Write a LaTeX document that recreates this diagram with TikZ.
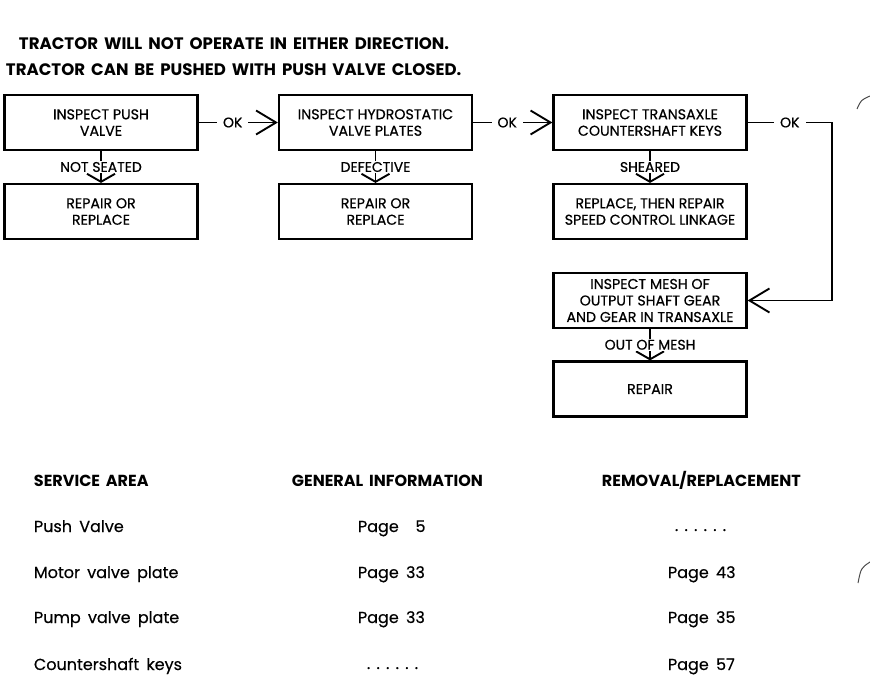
\documentclass[tikz,border=0pt]{standalone}
\usepackage{fontspec}
\setmainfont{Poppins}
\newfontfamily\boxfont[FakeBold=0.6]{Poppins}
\newfontfamily\widefont[WordSpace=2.2]{Poppins}
\newfontfamily\tabfont[WordSpace=1.7,FakeBold=0.4]{Poppins}
\newfontfamily\tabheadfont[WordSpace=1.7]{Poppins}
\usetikzlibrary{arrows.meta,positioning}

\begin{document}
\begin{tikzpicture}[x=1pt, y=-1pt, line width=1.9pt,
	box/.style={draw, line width=2.2pt, minimum width=193pt, minimum height=55pt, align=center, inner sep=0pt, font=\boxfont\fontsize{14.2}{16.5}\selectfont},
	lab/.style={fill=white, inner xsep=6pt, inner ysep=1pt, font=\boxfont\fontsize{14}{16}\selectfont},
	okarr/.style={-{Straight Barb[length=20pt,width=24pt]}},
	downarr/.style={-{Straight Barb[length=8pt,width=28pt]}},
	titletext/.style={anchor=west, inner sep=0pt, font=\widefont\bfseries\fontsize{16.6}{20}\selectfont},
	headtext/.style={anchor=base west, inner sep=0pt, font=\tabheadfont\bfseries\fontsize{16}{18}\selectfont},
	celltext/.style={anchor=base west, inner sep=0pt, font=\tabfont\fontsize{16}{18}\selectfont}]
	
	\newcommand{\dotrow}{.\hspace{6.2pt}.\hspace{6.2pt}.\hspace{6.2pt}.\hspace{6.2pt}.\hspace{6.2pt}.}
	\useasboundingbox (0,0) rectangle (870,682);
	
	% Tiêu đề
	\node[titletext] (title1) at (18,44) {TRACTOR WILL NOT OPERATE IN EITHER DIRECTION.};
	\node[titletext] (title2) at (5,70) {TRACTOR CAN BE PUSHED WITH PUSH VALVE CLOSED.};
	
	% Các hộp hàng trên
	\node[box] (pushvalve) at (101,122.5) {INSPECT PUSH\\VALVE};
	\node[box] (hydro) at (375.5,122.5) {INSPECT HYDROSTATIC\\VALVE PLATES};
	\node[box] (keys) at (650,122.5) {INSPECT TRANSAXLE\\COUNTERSHAFT KEYS};
	
	% Các hộp hàng dưới
	\node[box] (repair1) at (101,211.5) {REPAIR OR\\REPLACE};
	\node[box] (repair2) at (375.5,211.5) {REPAIR OR\\REPLACE};
	\node[box] (replace) at (650,211.5) {REPLACE, THEN REPAIR\\SPEED CONTROL LINKAGE};
	\node[box] (mesh) at (650,300.5) {INSPECT MESH OF\\OUTPUT SHAFT GEAR\\AND GEAR IN TRANSAXLE};
	\node[box] (repair3) at (650,389) {REPAIR};
	
	% Điểm gấp của đường OK bên phải
	\coordinate (turn) at (832,122.5);
	
	% Các mũi tên ngang
	\draw[okarr] (pushvalve) -- node[lab, pos=0.43] {OK} (hydro);
	\draw[okarr] (hydro) -- node[lab, pos=0.43] {OK} (keys);
	\draw[okarr] (keys) -- node[lab] {OK} (turn) |- (mesh);
	
	% Các mũi tên xuống
	\draw[downarr] (pushvalve) -- node[lab] {NOT SEATED} (repair1);
	\draw[downarr] (hydro) -- node[lab] {DEFECTIVE} (repair2);
	\draw[downarr] (keys) -- node[lab] {SHEARED} (replace);
	\draw[downarr] (mesh) -- node[lab] {OUT OF MESH} (repair3);
	
	% Bảng tra cứu
	\node[headtext] (hdarea) at (33,486) {SERVICE AREA};
	\node[headtext] (hdinfo) at (291,486) {GENERAL INFORMATION};
	\node[headtext] (hdremove) at (601,486) {REMOVAL/REPLACEMENT};
	
	\node[celltext] (area1) at (33,532) {Push Valve};
	\node[celltext] (area2) at (33,578) {Motor valve plate};
	\node[celltext] (area3) at (33,623) {Pump valve plate};
	\node[celltext] (area4) at (33,670) {Countershaft keys};
	
	\node[celltext] (info1) at (357,532) {Page \hphantom{3}5};
	\node[celltext] (info2) at (357,578) {Page 33};
	\node[celltext] (info3) at (357,623) {Page 33};
	\node[celltext] (info4) at (366,669) {\dotrow};
	
	\node[celltext] (remove1) at (674,531) {\dotrow};
	\node[celltext] (remove2) at (667,578) {Page 43};
	\node[celltext] (remove3) at (667,623) {Page 35};
	\node[celltext] (remove4) at (667,670) {Page 57};
	
	% Vết cong ở mép phải
	\draw[line width=1pt, black!70] (857,109) .. controls (861,100) .. (870,96);
	\draw[line width=1pt, black!70] (858,583) .. controls (861,568) .. (870,562);
\end{tikzpicture}
\end{document}
